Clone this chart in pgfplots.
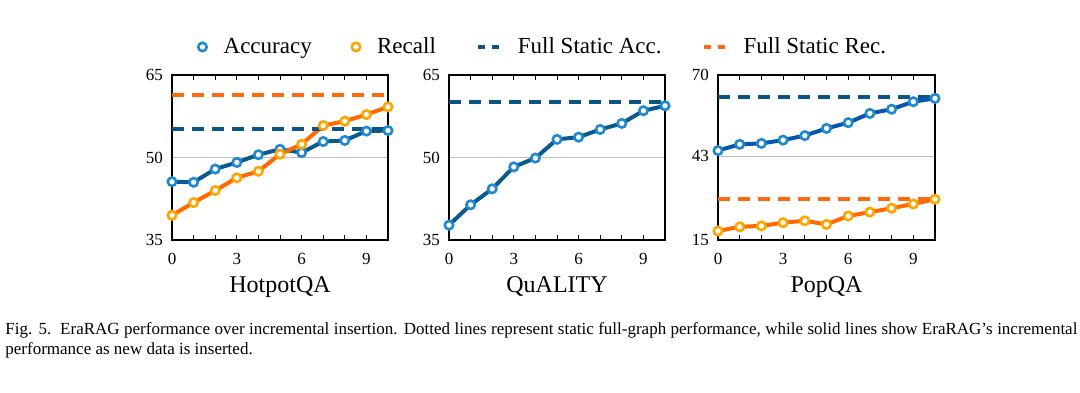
\documentclass[border=0pt]{standalone}
\usepackage{fontspec}
\setmainfont{Liberation Serif}
\usepackage{pgfplots}
\pgfplotsset{compat=1.18}
\definecolor{accL}{HTML}{0A5A8C}
\definecolor{accL3}{HTML}{0A56AA}
\definecolor{accM}{HTML}{1E88D0}
\definecolor{recL}{HTML}{FF6A00}
\definecolor{recM}{HTML}{FFA500}
\definecolor{sAcc}{HTML}{0B5585}
\definecolor{sRec}{HTML}{FF6A10}
\pgfplotsset{
  panel/.style={
    scale only axis, width=108pt, height=82.5pt,
    xmin=0, xmax=10, xtick={0,3,6,9}, minor xtick={1,2,4,5,7,8,10},
    tick align=inside, major tick length=2.5pt, minor tick length=2.5pt,
    xtick style={black, line width=0.5pt},
    ytick style={draw=none},
    axis line style={line width=0.6pt},
    ymajorgrids, grid style={black!25, line width=0.5pt},
    ticklabel style={font=\fontsize{8.5}{10}\selectfont},
    xticklabel style={yshift=-3pt},
    yticklabel style={xshift=-1pt},
    /pgf/number format/assume math mode=true,
    xlabel style={font=\fontsize{12}{14}\selectfont, yshift=1pt},
    clip=false,
  },
  accplot/.style={color=#1, line width=2pt, mark=*, mark size=2.1pt,
    mark options={draw=accM, fill=white, line width=1.3pt, solid}},
  recplot/.style={color=recL, line width=2pt, mark=*, mark size=2.1pt,
    mark options={draw=recM, fill=white, line width=1.3pt, solid}},
  saccplot/.style={color=sAcc, line width=2pt, dash pattern=on 6pt off 4pt},
  srecplot/.style={color=sRec, line width=2pt, dash pattern=on 6pt off 4pt},
}
\begin{document}
\begin{tikzpicture}
\path[use as bounding box] (0,0) rectangle (540pt,196pt);
% Panel 1
\begin{axis}[panel, at={(86pt,76pt)}, anchor=south west,
  ymin=35, ymax=65, ytick={35,50,65}, xlabel={HotpotQA},
  legend columns=4,
  legend style={at={(1.723,1.17)}, anchor=center, draw=none, fill=none,
    font=\fontsize{11.5}{13}\selectfont,
    /tikz/every odd column/.append style={column sep=6.5pt},
    /tikz/every even column/.append style={column sep=18pt}},
  ]
\addplot[accplot=accL, legend image code/.code={\draw[mark=*, mark size=2.1pt, mark options={draw=accM, fill=white, line width=1.3pt}] plot coordinates {(0pt,0pt)};}] coordinates {
(0,45.6) (1,45.5) (2,47.9) (3,49.1) (4,50.5) (5,51.5) (6,50.9) (7,52.9) (8,53.1) (9,54.8) (10,54.9)};
\addlegendentry{Accuracy}
\addplot[recplot, legend image code/.code={\draw[mark=*, mark size=2.1pt, mark options={draw=recM, fill=white, line width=1.3pt}] plot coordinates {(0pt,0pt)};}] coordinates {
(0,39.5) (1,41.8) (2,44.0) (3,46.3) (4,47.5) (5,50.6) (6,52.4) (7,55.8) (8,56.6) (9,57.8) (10,59.2)};
\addlegendentry{Recall}
\addplot[saccplot, legend image code/.code={\draw[sAcc, line width=2pt, dash pattern=on 3.5pt off 3.5pt] (0pt,0pt) -- (10.5pt,0pt);}] coordinates {(0,55.2) (10,55.2)};
\addlegendentry{Full Static Acc.}
\addplot[srecplot, legend image code/.code={\draw[sRec, line width=2pt, dash pattern=on 3.5pt off 3.5pt] (0pt,0pt) -- (10.5pt,0pt);}] coordinates {(0,61.4) (10,61.4)};
\addlegendentry{Full Static Rec.}
\end{axis}
% Panel 2
\begin{axis}[panel, at={(224.5pt,76pt)}, anchor=south west,
  ymin=35, ymax=65, ytick={35,50,65}, xlabel={QuALITY}]
\addplot[accplot=accL] coordinates {
(0,37.7) (1,41.4) (2,44.3) (3,48.3) (4,49.9) (5,53.3) (6,53.7) (7,55.1) (8,56.2) (9,58.5) (10,59.4)};
\addplot[saccplot] coordinates {(0,60.1) (10,60.1)};
\end{axis}
% Panel 3
\begin{axis}[panel, at={(359pt,76pt)}, anchor=south west, width=108.5pt,
  ymin=15, ymax=70, ytick={15,43,70}, xlabel={PopQA}]
\addplot[saccplot] coordinates {(0,62.8) (10,62.8)};
\addplot[srecplot] coordinates {(0,28.6) (10,28.6)};
\addplot[accplot=accL3] coordinates {
(0,44.8) (1,46.9) (2,47.2) (3,48.3) (4,49.8) (5,52.2) (6,54.1) (7,57.2) (8,58.6) (9,61.1) (10,62.2)};
\addplot[recplot] coordinates {
(0,18.0) (1,19.4) (2,19.7) (3,20.8) (4,21.4) (5,20.2) (6,23.0) (7,24.3) (8,25.6) (9,27.0) (10,28.6)};
\end{axis}
% Caption
\node[anchor=base west, inner sep=0pt, font=\fontsize{8.5}{10}\selectfont] at (2.5pt,29pt)
  {\makebox[536pt][s]{Fig. 5.\ \ EraRAG performance over incremental insertion. Dotted lines represent static full-graph performance, while solid lines show EraRAG’s incremental}};
\node[anchor=base west, inner sep=0pt, font=\fontsize{8.5}{10}\selectfont] at (2.5pt,19pt)
  {performance as new data is inserted.};
\end{tikzpicture}
\end{document}
